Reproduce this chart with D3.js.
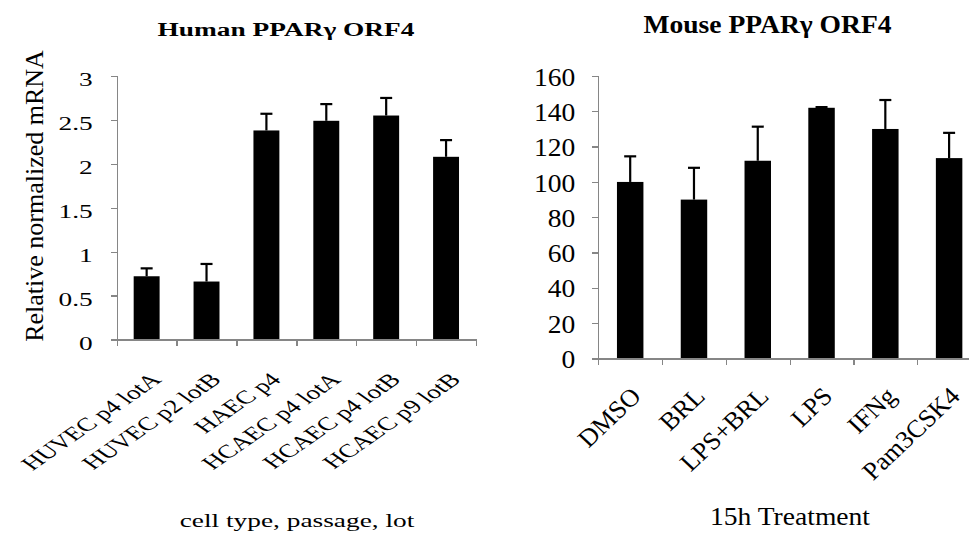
<!DOCTYPE html>
<html>
<head>
<meta charset="utf-8">
<script src="https://cdn.jsdelivr.net/npm/d3@7"></script>
<style>
  body { margin: 0; background: #fff; }
  svg { display: block; }
  svg text { font-family: "Liberation Serif", "Times New Roman", serif; fill: #000; }
  .axis path, .axis line { stroke: #868686; stroke-width: 1.3; shape-rendering: crispEdges; }
</style>
</head>
<body>
<svg width="969" height="535"></svg>
<script>
// Human panel data
var humanCats = ['HUVEC p4 lotA', 'HUVEC p2 lotB', 'HAEC p4', 'HCAEC p4 lotA', 'HCAEC p4 lotB', 'HCAEC p9 lotB'];
var humanVals = [0.72, 0.66, 2.38, 2.49, 2.55, 2.08];
var humanErr = [0.09, 0.20, 0.19, 0.19, 0.20, 0.19];
var humanTicks = [0, 0.5, 1, 1.5, 2, 2.5, 3];

// Mouse panel data
var mouseCats = ['DMSO', 'BRL', 'LPS+BRL', 'LPS', 'IFNg', 'Pam3CSK4'];
var mouseVals = [100, 90, 112, 142, 130, 113.5];
var mouseErr = [14.5, 18, 19.3, 0.4, 16.4, 14.3];
var mouseTicks = [0, 20, 40, 60, 80, 100, 120, 140, 160];

var svg = d3.select('svg');
svg.append('rect').attr('width', 969).attr('height', 535).attr('fill', '#fff');

// draws one bar panel; sx is the horizontal text stretch seen in the picture
function drawPanel(cfg) {
  var g = svg.append('g');
  var sx = cfg.sx;

  var y = d3.scaleLinear().domain(cfg.domain).range([cfg.y0, cfg.y1]);
  var x = d3.scaleBand().domain(cfg.cats).range([cfg.x0, cfg.x1])
    .paddingInner(cfg.pad).paddingOuter(cfg.pad / 2);
  var xb = d3.scaleLinear().domain([0, cfg.cats.length]).range([cfg.x0, cfg.x1]);

  // bars
  g.selectAll('rect.bar').data(cfg.vals).enter().append('rect')
    .attr('class', 'bar')
    .attr('x', function(d, i) { return x(cfg.cats[i]); })
    .attr('width', x.bandwidth())
    .attr('y', function(d) { return y(d); })
    .attr('height', function(d) { return y(0) - y(d); })
    .attr('fill', '#000');

  // error bars (upper only)
  var eg = g.selectAll('g.err').data(cfg.vals).enter().append('g').attr('class', 'err');
  eg.append('line')
    .attr('x1', function(d, i) { return x(cfg.cats[i]) + x.bandwidth() / 2; })
    .attr('x2', function(d, i) { return x(cfg.cats[i]) + x.bandwidth() / 2; })
    .attr('y1', function(d) { return y(d); })
    .attr('y2', function(d, i) { return y(d + cfg.err[i]); })
    .attr('stroke', '#000').attr('stroke-width', 2.2);
  eg.append('line')
    .attr('x1', function(d, i) { return x(cfg.cats[i]) + x.bandwidth() / 2 - 6; })
    .attr('x2', function(d, i) { return x(cfg.cats[i]) + x.bandwidth() / 2 + 6; })
    .attr('y1', function(d, i) { return y(d + cfg.err[i]); })
    .attr('y2', function(d, i) { return y(d + cfg.err[i]); })
    .attr('stroke', '#000').attr('stroke-width', 2.2);

  // y axis
  var ya = g.append('g').attr('class', 'axis')
    .attr('transform', 'translate(' + cfg.x0 + ',0)')
    .call(d3.axisLeft(y).tickValues(cfg.ticks).tickSize(6).tickSizeOuter(6).tickFormat(''));
  ya.selectAll('.tick').append('text')
    .attr('transform', 'translate(' + (-cfg.labGap) + ',0) scale(' + sx + ',1)')
    .attr('text-anchor', 'end')
    .attr('dy', cfg.tickDy)
    .style('font-family', '"Liberation Serif", "Times New Roman", serif')
    .style('font-size', cfg.font + 'px')
    .text(function(d) { return d3.format('')(d); });

  // x axis with ticks between categories
  g.append('g').attr('class', 'axis')
    .attr('transform', 'translate(0,' + cfg.y0 + ')')
    .call(d3.axisBottom(xb).tickValues(d3.range(cfg.cats.length + 1)).tickSize(6).tickSizeOuter(0).tickFormat(''));

  // rotated category labels
  g.selectAll('text.cat').data(cfg.cats).enter().append('text')
    .attr('class', 'cat')
    .attr('transform', function(d) {
      return 'translate(' + (x(d) + x.bandwidth() / 2 + cfg.catDx) + ',' + cfg.catY + ') scale(' + sx + ',1) rotate(-45)';
    })
    .attr('text-anchor', 'end')
    .attr('dy', '0.66em')
    .style('font-size', cfg.catFont + 'px')
    .text(function(d) { return d; });

  // title
  g.append('text')
    .attr('transform', 'translate(' + cfg.titleX + ',' + cfg.titleY + ') scale(' + sx + ',1)')
    .attr('text-anchor', 'middle')
    .style('font-size', cfg.font + 'px')
    .style('font-weight', 'bold')
    .text(cfg.title);

  // x axis title
  g.append('text')
    .attr('transform', 'translate(' + cfg.xtX + ',' + cfg.xtY + ') scale(' + sx + ',1)')
    .attr('text-anchor', 'middle')
    .style('font-size', cfg.font + 'px')
    .text(cfg.xTitle);
}

drawPanel({
  cats: humanCats, vals: humanVals, err: humanErr, ticks: humanTicks,
  domain: [0, 3], y0: 339.5, y1: 76, x0: 116.7, x1: 476, pad: 0.567,
  sx: 1.44, font: 19, catFont: 19, labGap: 24, tickDy: '0.5em',
  catDx: 3, catY: 372,
  title: 'Human PPAR\u03b3 ORF4', titleX: 286, titleY: 36,
  xTitle: 'cell type, passage, lot', xtX: 297, xtY: 527
});

drawPanel({
  cats: mouseCats, vals: mouseVals, err: mouseErr, ticks: mouseTicks,
  domain: [0, 160], y0: 358.5, y1: 76, x0: 598.3, x1: 981, pad: 0.585,
  sx: 1.06, font: 26, catFont: 25, labGap: 23, tickDy: '0.35em',
  catDx: 0, catY: 386,
  title: 'Mouse PPAR\u03b3 ORF4', titleX: 767.5, titleY: 33,
  xTitle: '15h Treatment', xtX: 790, xtY: 525
});

// y axis title of the human panel
svg.append('text')
  .attr('transform', 'translate(43,196) rotate(-90)')
  .attr('text-anchor', 'middle')
  .style('font-size', '26px')
  .text('Relative normalized mRNA');
</script>
</body>
</html>
